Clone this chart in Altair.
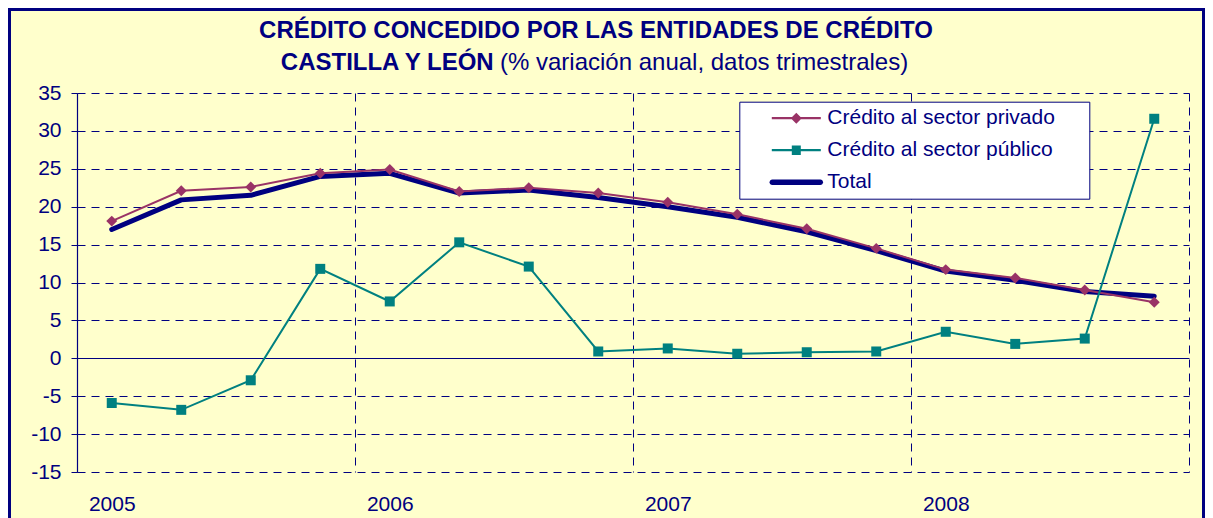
import json
import altair as alt
import pandas as pd

# ---------------- data ----------------
quarters = ["I-2005", "II-2005", "III-2005", "IV-2005",
            "I-2006", "II-2006", "III-2006", "IV-2006",
            "I-2007", "II-2007", "III-2007", "IV-2007",
            "I-2008", "II-2008", "III-2008", "IV-2008"]
years = ["2005", "2006", "2007", "2008"]
series = ["Crédito al sector privado", "Crédito al sector público", "Total"]

privado = [18.1, 22.1, 22.6, 24.4, 24.9, 22.0, 22.5, 21.8,
           20.6, 19.0, 17.1, 14.5, 11.7, 10.6, 9.0, 7.4]
publico = [-5.9, -6.8, -2.9, 11.8, 7.5, 15.3, 12.1, 0.9,
           1.3, 0.6, 0.8, 0.9, 3.5, 1.9, 2.6, 31.6]
total = [17.0, 20.9, 21.5, 24.0, 24.4, 21.8, 22.2, 21.2,
         20.0, 18.6, 16.7, 14.2, 11.5, 10.3, 8.8, 8.2]

y_ticks = [-15, -10, -5, 0, 5, 10, 15, 20, 25, 30, 35]

title_line1 = "CRÉDITO CONCEDIDO POR LAS ENTIDADES DE CRÉDITO"
title_line2_bold = "CASTILLA Y LEÓN"
title_line2_rest = "(% variación anual, datos trimestrales)"

# ---------------- style ----------------
NAVY = "#000080"
MAROON = "#993366"
TEAL = "#008080"
BG = "#FFFFCC"
FONT = "Liberation Sans"
W, H = 1112, 379
PAD = {"left": 69, "top": 85, "right": 16, "bottom": 46}
DASH = [8, 6]


def frame(values):
    return pd.DataFrame({"idx": list(range(len(quarters))), "quarter": quarters, "v": values})


df_priv = frame(privado)
df_pub = frame(publico)
df_tot = frame(total)

n = len(quarters)
bounds = [4 * i - 0.5 for i in range(len(years) + 1)]

x_enc = alt.X(
    "idx:Q",
    scale=alt.Scale(domain=[-0.5, n - 0.5], nice=False, zero=False),
    axis=alt.Axis(
        values=bounds, title=None, grid=True, gridColor=NAVY, gridDash=DASH, gridWidth=1,
        ticks=False, domain=False,
        labelExpr=f"{json.dumps(years)}[floor((datum.value + 0.5) / 4)] || ''",
        labelOffset=W / n / 2, labelPadding=21, labelFlush=False, labelOverlap=False,
        labelAlign="center", labelBaseline="top",
    ),
)
y_enc = alt.Y(
    "v:Q",
    scale=alt.Scale(domain=[-15, 35], nice=False),
    axis=alt.Axis(
        values=y_ticks, title=None, grid=True, gridColor=NAVY, gridWidth=1,
        gridDash={"condition": {"test": "datum.value === 0", "value": []}, "value": DASH},
        tickSize=6, tickColor=NAVY, domainColor=NAVY, domainWidth=1.2, labelPadding=10,
        labelExpr="toString(datum.value)",
    ),
)

enc = dict(x=x_enc, y=y_enc, tooltip=["quarter:N", "v:Q"])

line_tot = alt.Chart(df_tot).mark_line(color=NAVY, strokeWidth=5, strokeCap="round",
                                       strokeJoin="round").encode(**enc)
line_priv = alt.Chart(df_priv).mark_line(color=MAROON, strokeWidth=2).encode(**enc)
pts_priv = alt.Chart(df_priv).mark_point(shape="diamond", filled=True, color=MAROON,
                                         size=120, opacity=1).encode(**enc)
line_pub = alt.Chart(df_pub).mark_line(color=TEAL, strokeWidth=2).encode(**enc)
pts_pub = alt.Chart(df_pub).mark_point(shape="square", filled=True, color=TEAL,
                                       size=100, opacity=1).encode(**enc)

# legend symbols: line + marker drawn as custom paths
paths = [
    "M3.2,-0.22H13V0.22H3.2Z M8.1,-1.1L9.2,0L8.1,1.1L7,0Z",
    "M3.2,-0.22H13V0.22H3.2Z M7.2,-0.95H9V0.95H7.2Z",
    "M3.3,-0.55H12.9A0.55,0.55 0 0 1 12.9,0.55H3.3A0.55,0.55 0 0 1 3.3,-0.55Z",
]
leg = alt.Legend(
    orient="none", legendX=662.3, legendY=8.7, padding=6,
    title=".", titleOrient="right", titleColor="white", titleFontSize=6, titlePadding=26,
    fillColor="white", strokeColor=NAVY, symbolSize=100, symbolStrokeWidth=0,
    labelFont=FONT, labelFontSize=21, labelColor=NAVY, labelOffset=61, rowPadding=10,
    labelLimit=600,
)
legend_layer = alt.Chart(pd.DataFrame({"serie": series})).transform_filter("false").mark_point(
    filled=True, opacity=1
).encode(
    color=alt.Color("serie:N", scale=alt.Scale(domain=series, range=[MAROON, TEAL, NAVY]), legend=leg),
    shape=alt.Shape("serie:N", scale=alt.Scale(domain=series, range=paths), legend=leg),
)

# titles
t1 = alt.Chart(pd.DataFrame({"t": [title_line1]})).mark_text(
    font=FONT, fontSize=24, fontWeight="bold", color=NAVY, align="center", baseline="alphabetic"
).encode(x=alt.value(519), y=alt.value(-55.3), text="t:N")
t2a = alt.Chart(pd.DataFrame({"t": [title_line2_bold]})).mark_text(
    font=FONT, fontSize=24, fontWeight="bold", color=NAVY, align="right", baseline="alphabetic"
).encode(x=alt.value(416.7), y=alt.value(-23), text="t:N")
t2b = alt.Chart(pd.DataFrame({"t": [title_line2_rest]})).mark_text(
    font=FONT, fontSize=24, color=NAVY, align="left", baseline="alphabetic"
).encode(x=alt.value(423), y=alt.value(-23), text="t:N")

# outer frame of the chart
border = alt.Chart(pd.DataFrame({"k": [0]})).mark_rect(
    fillOpacity=0, stroke=NAVY, strokeWidth=3
).encode(
    x=alt.value(-PAD["left"] + 1.5), y=alt.value(-PAD["top"] + 1.5),
    x2=alt.value(W + PAD["right"] - 1.5), y2=alt.value(H + PAD["bottom"] + 10),
)

chart = alt.layer(
    line_tot, line_priv, pts_priv, line_pub, pts_pub, legend_layer, t1, t2a, t2b, border
).properties(
    width=W, height=H, autosize=alt.AutoSizeParams(type="none"), padding=PAD, background=BG
).configure_view(stroke=None).configure_axis(
    labelFont=FONT, labelFontSize=21, labelColor=NAVY
)

chart.save("out.html", embed_options={"renderer": "svg", "actions": False})
